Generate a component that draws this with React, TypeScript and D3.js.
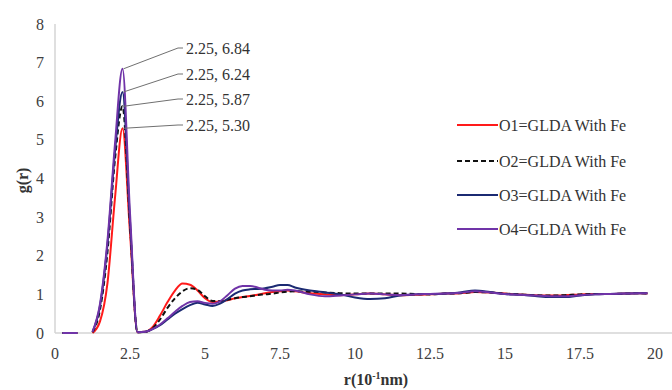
import React, { useEffect } from "react"
import * as d3 from "d3"

// r in units of 10^-1 nm
const R = [
  0.25, 0.5, 0.75, 1.0, 1.25, 1.5, 1.75, 2.0, 2.25, 2.5, 2.75, 3.0, 3.25, 3.5, 3.75, 4.0,
  4.25, 4.5, 4.75, 5.0, 5.25, 5.5, 5.75, 6.0, 6.25, 6.5, 6.75, 7.0, 7.25, 7.5, 7.75, 8.0,
  8.5, 9, 9.5, 10, 10.5, 11, 11.5, 12, 12.5, 13, 13.5, 14, 14.5, 15, 15.5, 16, 16.5, 17,
  17.5, 18, 18.5, 19, 19.5, 19.75,
]

const O1 = [
  0, 0, 0, null, 0.0, 0.3, 1.3, 3.5, 5.3, 2.6, 0.02, 0.03, 0.15, 0.45, 0.8, 1.1,
  1.28, 1.25, 1.1, 0.9, 0.8, 0.82, 0.85, 0.9, 0.93, 0.96, 0.99, 1.03, 1.06, 1.08, 1.1, 1.08,
  1.03, 1.0, 0.98, 1.0, 1.02, 1.0, 0.98, 0.99, 1.0, 1.02, 1.03, 1.06, 1.05, 1.02, 1.0, 0.98, 0.97, 0.98,
  1.0, 1.01, 1.01, 1.02, 1.03, 1.02,
]
const O2 = [
  0, 0, 0, null, 0.02, 0.6, 2.1, 4.5, 5.87, 2.8, 0.02, 0.03, 0.12, 0.35, 0.65, 0.9,
  1.08, 1.16, 1.12, 0.95, 0.83, 0.83, 0.86, 0.9, 0.93, 0.95, 0.98, 1.0, 1.02, 1.05, 1.07, 1.08,
  1.07, 1.05, 1.03, 1.02, 1.02, 1.02, 1.02, 1.01, 1.0, 1.02, 1.03, 1.06, 1.05, 1.02, 1.0, 0.98, 0.97, 0.98,
  1.0, 1.01, 1.01, 1.02, 1.03, 1.02,
]
const O3 = [
  0, 0, 0, null, 0.03, 0.7, 2.3, 4.7, 6.24, 2.9, 0.02, 0.03, 0.1, 0.2, 0.35, 0.5,
  0.62, 0.72, 0.78, 0.74, 0.7, 0.76, 0.88, 1.02, 1.1, 1.13, 1.14, 1.16, 1.2, 1.24, 1.24, 1.18,
  1.1, 1.05, 1.0, 0.92, 0.88, 0.9, 0.97, 1.0, 1.01, 1.02, 1.05, 1.1, 1.06, 1.01, 0.99, 0.96, 0.93, 0.93,
  0.97, 1.0, 1.01, 1.02, 1.03, 1.03,
]
const O4 = [
  0, 0, 0, null, 0.03, 0.75, 2.4, 4.9, 6.84, 3.1, 0.02, 0.03, 0.1, 0.22, 0.38, 0.55,
  0.7, 0.8, 0.82, 0.78, 0.76, 0.82, 0.98, 1.15, 1.22, 1.22, 1.18, 1.12, 1.1, 1.1, 1.12, 1.1,
  1.0, 0.95, 0.97, 1.0, 1.02, 1.0, 0.98, 1.0, 1.01, 1.02, 1.04, 1.08, 1.05, 1.01, 0.99, 0.97, 0.95, 0.95,
  0.98, 1.0, 1.01, 1.02, 1.03, 1.03,
]

const SERIES_NAMES = ["O1=GLDA With Fe", "O2=GLDA With Fe", "O3=GLDA With Fe", "O4=GLDA With Fe"]
const SERIES_VALUES = [O1, O2, O3, O4]
const COLORS = ["#ff1a1a", "#111111", "#1b2a72", "#7034a8"]
const DASHES = [null, "5,3", null, null]

const X_TICKS = [0, 2.5, 5, 7.5, 10, 12.5, 15, 17.5, 20]
const Y_TICKS = [0, 1, 2, 3, 4, 5, 6, 7, 8]

// peak labels (r, g(r)), top to bottom
const PEAK_R = [2.25, 2.25, 2.25, 2.25]
const PEAK_G = [6.84, 6.24, 5.87, 5.3]

const W = 672
const H = 390
const FONT = "Liberation Serif"

export default function App() {
  useEffect(() => {
    document.body.style.margin = "0"
  }, [])

  const x = d3.scaleLinear().domain([0, 20]).range([55, 655])
  const y = d3.scaleLinear().domain([0, 8]).range([333, 24])

  const line = d3
    .line<[number, number | null]>()
    .defined(d => d[1] != null)
    .x(d => x(d[0]))
    .y(d => y(d[1] as number))
    .curve(d3.curveMonotoneX)

  const labelY = [48, 74, 99, 125]
  const txt = { fontFamily: FONT }

  return (
    <svg width={W} height={H} style={{ display: "block", background: "#fff" }}>
      {/* axes */}
      <line x1={x(0)} x2={x(0)} y1={y(8)} y2={y(0)} stroke="#d4d4d4" strokeWidth={1.5} />
      <line x1={x(0)} x2={W} y1={y(0)} y2={y(0)} stroke="#d4d4d4" strokeWidth={1.5} />

      {Y_TICKS.map(t => (
        <text key={t} style={txt} x={44} y={y(t)} dy="0.35em" textAnchor="end" fontSize={16} fill="#404040">
          {t}
        </text>
      ))}
      {X_TICKS.map(t => (
        <text key={t} style={txt} x={x(t)} y={359} textAnchor="middle" fontSize={16} fill="#404040">
          {t}
        </text>
      ))}

      <text
        style={txt}
        transform={`translate(28,${y(3.95)}) rotate(-90)`}
        textAnchor="middle"
        fontSize={16}
        fontWeight="bold"
        fill="#333"
      >
        g(r)
      </text>
      <text style={txt} x={376} y={385} textAnchor="middle" fontSize={16} fontWeight="bold" fill="#333">
        r(10
        <tspan dy={-6} fontSize={10}>-1</tspan>
        <tspan dy={6}>nm)</tspan>
      </text>

      {/* series */}
      {SERIES_VALUES.map((vals, i) => (
        <path
          key={i}
          d={line(R.map((r, j) => [r, vals[j]])) || ""}
          fill="none"
          stroke={COLORS[i]}
          strokeWidth={2}
          strokeDasharray={DASHES[i] || undefined}
        />
      ))}

      {/* peak annotations */}
      {PEAK_R.map((r, i) => (
        <g key={i}>
          <polyline
            points={`${x(r) + 1},${y(PEAK_G[i])} 178,${labelY[i]} 183,${labelY[i]}`}
            fill="none"
            stroke="#707070"
            strokeWidth={1}
          />
          <text style={txt} x={186} y={labelY[i]} dy="0.35em" fontSize={16} fill="#333">
            {`${r}, ${PEAK_G[i].toFixed(2)}`}
          </text>
        </g>
      ))}

      {/* legend */}
      {SERIES_NAMES.map((name, i) => {
        const ly = [125, 161, 195, 229][i]
        return (
          <g key={name}>
            <line
              x1={457}
              x2={498}
              y1={ly}
              y2={ly}
              stroke={COLORS[i]}
              strokeWidth={2}
              strokeDasharray={DASHES[i] || undefined}
            />
            <text style={txt} x={499} y={ly} dy="0.35em" fontSize={16} fill="#333">
              {name}
            </text>
          </g>
        )
      })}
    </svg>
  )
}
